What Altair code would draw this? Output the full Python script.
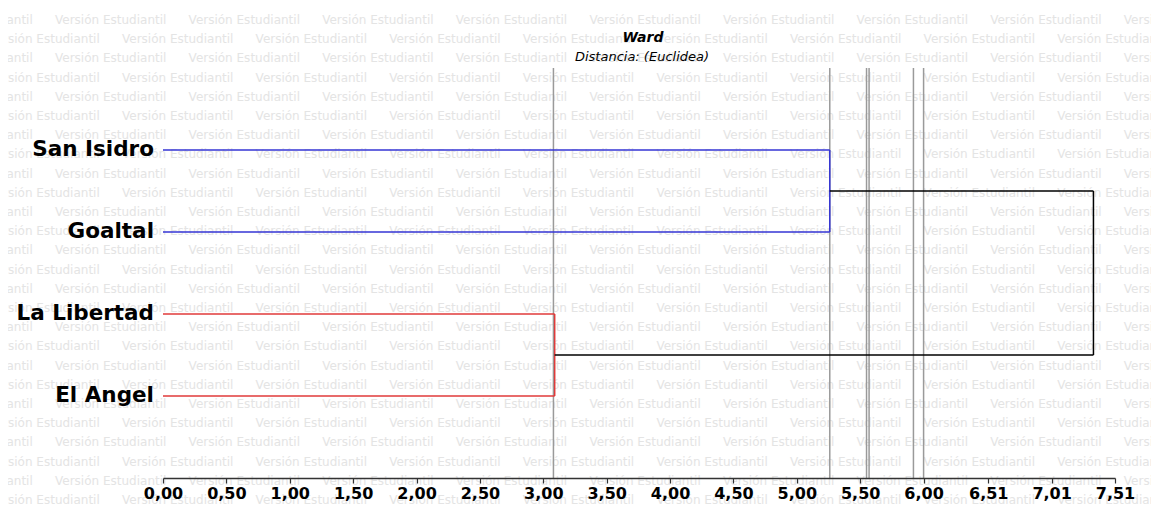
import altair as alt
import pandas as pd

# ---------------- data ----------------
TITLE = "Ward"
SUBTITLE = "Distancia: (Euclidea)"
LEAVES = ["San Isidro", "Goaltal", "La Libertad", "El Angel"]
LEAF_ORDER = [1, 2, 3, 4]
LEAF_CLUSTER = ["A", "A", "B", "B"]
CLUSTER_HEIGHT = {"A": 5.26, "B": 3.09}
CLUSTER_COLOR = {"A": "#3535d4", "B": "#e03a3a"}
ROOT_HEIGHT = 7.34
REF_LINES = [3.08, 5.26, 5.55, 5.57, 5.92, 6.00]
TICK_VALUES = [0.00, 0.50, 1.00, 1.50, 2.00, 2.50, 3.00, 3.50, 4.00,
               4.50, 5.00, 5.50, 6.00, 6.51, 7.01, 7.51]
TICK_LABELS = ["0,00", "0,50", "1,00", "1,50", "2,00", "2,50", "3,00", "3,50",
               "4,00", "4,50", "5,00", "5,50", "6,00", "6,51", "7,01", "7,51"]
WATERMARK = "Versión Estudiantil"

# ---------------- layout ----------------
W, H = 952, 410
XMAX, YMAX = 7.51, 5
FONT = "DejaVu Sans"

# dendrogram segments built from the values above
segs = []
for name, pos, cl in zip(LEAVES, LEAF_ORDER, LEAF_CLUSTER):
    segs.append(dict(x=0.0, x2=CLUSTER_HEIGHT[cl], y=pos, y2=pos, c=CLUSTER_COLOR[cl]))
mids = {}
for cl in ["A", "B"]:
    ps = [p for p, c in zip(LEAF_ORDER, LEAF_CLUSTER) if c == cl]
    h = CLUSTER_HEIGHT[cl]
    segs.append(dict(x=h, x2=h, y=min(ps), y2=max(ps), c=CLUSTER_COLOR[cl]))
    mids[cl] = (min(ps) + max(ps)) / 2
    segs.append(dict(x=h, x2=ROOT_HEIGHT, y=mids[cl], y2=mids[cl], c="#000000"))
segs.append(dict(x=ROOT_HEIGHT, x2=ROOT_HEIGHT, y=mids["A"], y2=mids["B"], c="#000000"))
seg_df = pd.DataFrame(segs)

leaf_df = pd.DataFrame({"name": LEAVES, "pos": LEAF_ORDER, "x": [0.0] * len(LEAVES)})
ref_df = pd.DataFrame({"x": REF_LINES})

# watermark grid (decorative background text), converted to data units
wm = []
for r in range(27):
    py = -48 + 19.2 * r
    start = (55 if r % 2 == 0 else 122) - 163
    for k in range(-1, 10):
        px = start + 133.6 * k
        if px < -290 or px > 995:
            continue
        wm.append(dict(x=px * XMAX / W, y=py * YMAX / H, t=WATERMARK))
wm_df = pd.DataFrame(wm)

xscale = alt.Scale(domain=[0, XMAX], nice=False, zero=False)
yscale = alt.Scale(domain=[0, YMAX], reverse=True, nice=False, zero=False)

label_expr = ("[" + ",".join("'" + s + "'" for s in TICK_LABELS) + "]"
              + "[indexof(" + str(TICK_VALUES) + ", datum.value)]")

xaxis = alt.Axis(values=TICK_VALUES, title=None, grid=False, domain=True,
                 labelExpr=label_expr,
                 labelFont=FONT, labelFontSize=16, labelFontWeight="bold",
                 labelColor="#000000", labelPadding=2,
                 domainColor="#333333", domainWidth=1.6,
                 tickColor="#333333", tickSize=5, tickWidth=1.2,
                 labelFlush=False, labelOverlap=False, zindex=2)

watermark = alt.Chart(wm_df).mark_text(
    align="left", baseline="middle", font=FONT, fontSize=12, color="#e4e4e4"
).encode(
    x=alt.X("x:Q", scale=xscale, axis=xaxis),
    y=alt.Y("y:Q", scale=yscale, axis=None),
    text="t:N",
)

refs = alt.Chart(ref_df).mark_rule(color="#9a9a9a", strokeWidth=1.5).encode(
    x=alt.X("x:Q", scale=xscale, axis=xaxis),
)

lines = alt.Chart(seg_df).mark_rule(strokeWidth=1.5).encode(
    x=alt.X("x:Q", scale=xscale, axis=xaxis),
    x2="x2:Q",
    y=alt.Y("y:Q", scale=yscale, axis=None),
    y2="y2:Q",
    color=alt.Color("c:N", scale=None),
)

labels = alt.Chart(leaf_df).mark_text(
    align="right", baseline="middle", dx=-9, font=FONT, fontSize=21.5,
    fontWeight="bold", color="#000000"
).encode(
    x=alt.X("x:Q", scale=xscale, axis=xaxis),
    y=alt.Y("pos:Q", scale=yscale, axis=None),
    text="name:N",
)

title_df = pd.DataFrame({"t": [TITLE]})
sub_df = pd.DataFrame({"t": [SUBTITLE]})

title_mark = alt.Chart(title_df).mark_text(
    align="center", baseline="middle", font=FONT, fontSize=14,
    fontWeight="bold", fontStyle="italic", color="#000000"
).encode(x=alt.value(W / 2 + 4), y=alt.value(-30), text="t:N")

sub_mark = alt.Chart(sub_df).mark_text(
    align="center", baseline="middle", font=FONT, fontSize=13,
    fontStyle="italic", color="#000000"
).encode(x=alt.value(W / 2 + 3), y=alt.value(-11), text="t:N")

chart = alt.layer(watermark, refs, lines, labels, title_mark, sub_mark).properties(
    width=W, height=H,
    autosize=alt.AutoSizeParams(type="none"),
    padding={"left": 155, "top": 60, "right": 36, "bottom": 34},
).configure(background="#ffffff").configure_view(stroke=None)

chart.save("out.html", embed_options={"renderer": "svg", "actions": False})
